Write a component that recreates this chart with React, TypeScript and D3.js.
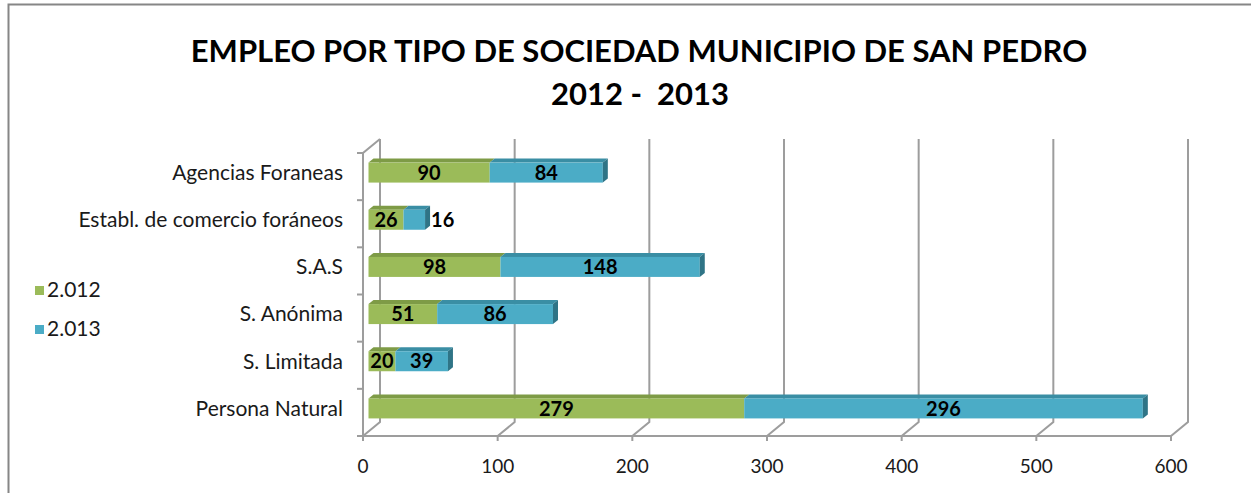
import React, { useEffect, useRef } from "react";
import * as d3 from "d3";

const categories = [
  "Agencias Foraneas",
  "Establ. de comercio foráneos",
  "S.A.S",
  "S. Anónima",
  "S. Limitada",
  "Persona Natural",
];
const series2012 = [90, 26, 98, 51, 20, 279];
const series2013 = [84, 16, 148, 86, 39, 296];
const seriesNames = ["2.012", "2.013"];
const xTicks = [0, 100, 200, 300, 400, 500, 600];

const FONT = "Lato, 'Open Sans', sans-serif";

function App() {
  const ref = useRef<SVGSVGElement>(null);

  useEffect(() => {
    const svg = d3.select(ref.current);
    svg.selectAll("*").remove();

    // plot geometry (front plane of the 3d box)
    const front = { left: 363, top: 153, bottom: 436, axisY: 436 };
    const depth = { dx: 17, dy: -14 }; // back wall offset
    const barShift = { dx: 5.5, dy: 0 }; // bars sit a bit into the box
    const barDepth = { dx: 5, dy: -4 };
    const barH = 20;

    const x = d3.scaleLinear().domain([0, 600]).range([front.left, 1171]);
    const y = d3.scaleBand().domain(categories).range([front.top, front.bottom]);

    const colors = ["#9BBB59", "#4BACC6"];
    const topColors = ["#7E9B46", "#3A8EA4"];
    const endColor = "#2F7486";
    const gridColor = "#9d9d9d";

    // chart border
    svg.append("rect")
      .attr("x", 8.5).attr("y", 4.5)
      .attr("width", 1300).attr("height", 600)
      .attr("fill", "#fff")
      .attr("stroke", "#868686").attr("stroke-width", 2);

    // title
    const title = svg.append("text")
      .attr("text-anchor", "middle")
      .style("font-family", FONT)
      .style("font-weight", "bold")
      .style("font-size", "31px")
      .attr("fill", "#000");
    title.append("tspan").attr("x", 639).attr("y", 62)
      .text("EMPLEO POR TIPO DE SOCIEDAD MUNICIPIO DE SAN PEDRO");
    title.append("tspan").attr("x", 640).attr("y", 105)
      .style("white-space", "pre")
      .text("2012 -  2013");

    const grid = svg.append("g")
      .attr("stroke", gridColor).attr("stroke-width", 2).attr("fill", "none");

    // back wall gridlines + floor diagonals
    xTicks.forEach((t) => {
      const fx = x(t);
      grid.append("path")
        .attr("d", `M${fx},${front.axisY} L${fx + depth.dx},${front.axisY + depth.dy} L${fx + depth.dx},${front.top + depth.dy}`);
      // tick mark
      grid.append("line")
        .attr("x1", fx).attr("x2", fx)
        .attr("y1", front.axisY).attr("y2", front.axisY + 5);
    });

    // left wall
    grid.append("path")
      .attr("d", `M${front.left},${front.axisY} L${front.left},${front.top} L${front.left + depth.dx},${front.top + depth.dy}`);
    // floor front edge
    grid.append("line")
      .attr("x1", front.left).attr("x2", x(600))
      .attr("y1", front.axisY).attr("y2", front.axisY);

    // category ticks
    const edges = categories.map((c) => y(c) as number).concat([front.bottom]);
    edges.forEach((e) => {
      grid.append("line")
        .attr("x1", front.left - 6).attr("x2", front.left)
        .attr("y1", e).attr("y2", e);
    });

    // x tick labels
    svg.append("g").selectAll("text")
      .data(xTicks)
      .join("text")
      .attr("x", (d) => x(d))
      .attr("y", 473)
      .attr("text-anchor", "middle")
      .style("font-family", FONT)
      .style("font-size", "19px")
      .attr("fill", "#1a1a1a")
      .text((d) => d);

    // category labels
    svg.append("g").selectAll("text")
      .data(categories)
      .join("text")
      .attr("x", 343)
      .attr("y", (d) => (y(d) as number) + y.bandwidth() / 2 - 4)
      .attr("dy", "0.35em")
      .attr("text-anchor", "end")
      .style("font-family", FONT)
      .style("font-size", "21px")
      .attr("fill", "#1a1a1a")
      .text((d) => d);

    // stacked bars
    const stacked = categories.map((c, i) => ({ cat: c, vals: [series2012[i], series2013[i]] }));
    const bars = svg.append("g");
    const labels = svg.append("g");

    stacked.forEach((row) => {
      const yc = (y(row.cat) as number) + y.bandwidth() / 2 - 4;
      const y0 = yc - barH / 2;
      let cum = 0;
      row.vals.forEach((v, si) => {
        const xa = x(cum) + barShift.dx;
        const xb = x(cum + v) + barShift.dx;
        // top face
        bars.append("path")
          .attr("d", `M${xa},${y0} L${xa + barDepth.dx},${y0 + barDepth.dy} L${xb + barDepth.dx},${y0 + barDepth.dy} L${xb},${y0} Z`)
          .attr("fill", topColors[si]);
        // front face
        bars.append("rect")
          .attr("x", xa).attr("y", y0)
          .attr("width", xb - xa).attr("height", barH)
          .attr("fill", colors[si]);
        if (si === row.vals.length - 1) {
          bars.append("path")
            .attr("d", `M${xb},${y0} L${xb + barDepth.dx},${y0 + barDepth.dy} L${xb + barDepth.dx},${y0 + barH + barDepth.dy} L${xb},${y0 + barH} Z`)
            .attr("fill", endColor);
        }
        // value label
        const wide = xb - xa > 24;
        labels.append("text")
          .attr("x", wide ? (xa + xb) / 2 : xb + barDepth.dx + 1)
          .attr("y", yc)
          .attr("dy", "0.36em")
          .attr("text-anchor", wide ? "middle" : "start")
          .style("font-family", FONT)
          .style("font-weight", "bold")
          .style("font-size", "20px")
          .attr("fill", "#000")
          .text(v);
        cum += v;
      });
    });

    // legend
    const legend = svg.append("g");
    seriesNames.forEach((s, i) => {
      const ly = 286 + i * 39;
      legend.append("rect")
        .attr("x", 35).attr("y", ly)
        .attr("width", 9).attr("height", 9)
        .attr("fill", colors[i]);
      legend.append("text")
        .attr("x", 47).attr("y", ly + 11)
        .style("font-family", FONT)
        .style("font-size", "21px")
        .attr("fill", "#1a1a1a")
        .text(s);
    });
  }, []);

  return (
    <svg
      ref={ref}
      width={1251}
      height={493}
      style={{ position: "absolute", left: 0, top: 0, background: "#fff" }}
    />
  );
}

export default App;
